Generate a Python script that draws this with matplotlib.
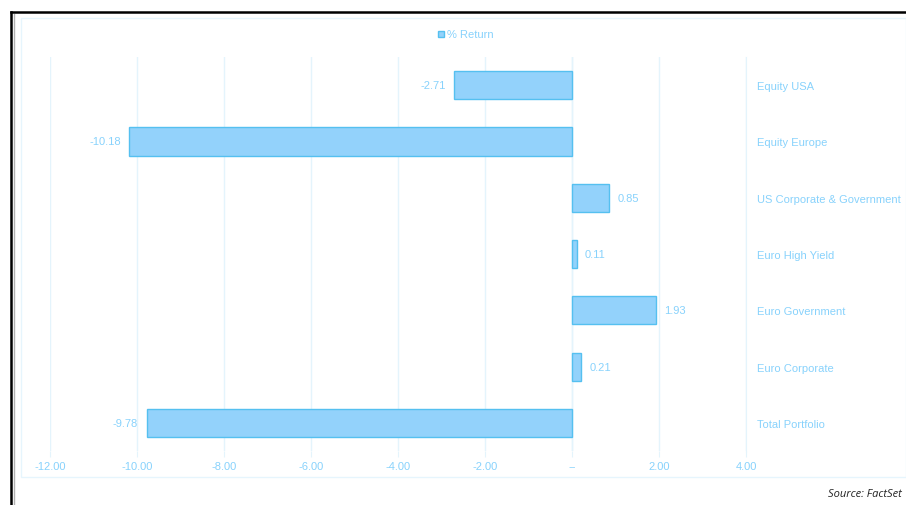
import matplotlib
matplotlib.use("Agg")
import matplotlib.pyplot as plt
from matplotlib.lines import Line2D
from matplotlib.patches import Rectangle
import numpy as np

categories = ["Equity USA", "Equity Europe", "US Corporate & Government",
              "Euro High Yield", "Euro Government", "Euro Corporate", "Total Portfolio"]
returns = [-2.71, -10.18, 0.85, 0.11, 1.93, 0.21, -9.78]
xticks = [-12, -10, -8, -6, -4, -2, 0, 2, 4]
xtick_labels = ["-12.00", "-10.00", "-8.00", "-6.00", "-4.00", "-2.00", "--", "2.00", "4.00"]
series_name = "% Return"
source = "Source: FactSet"

plt.rcParams['font.family'] = ['Liberation Sans', 'DejaVu Sans']
txt = "#88d2fc"
grid = "#e4f4fc"
fill = "#93d2fb"
edge = "#55c0f0"
fs = 8

W, H = 906, 506
fig = plt.figure(figsize=(W/100, H/100), dpi=100)
fig.patch.set_facecolor("white")

# outer frame lines
fig.add_artist(Line2D([11/W, 11/W], [0, 1-13/H], color="black", lw=1.8, transform=fig.transFigure))
fig.add_artist(Line2D([14/W, 14/W], [0, 1-15/H], color="#b0b0b0", lw=1.0, transform=fig.transFigure))
fig.add_artist(Line2D([11/W, 1], [1-13/H, 1-13/H], color="black", lw=1.8, transform=fig.transFigure))
# inner panel
fig.add_artist(Rectangle((21/W, 1-478/H), (W-21)/W, (478-19)/H, fill=False,
                         edgecolor="#e6f5fd", lw=1.0, transform=fig.transFigure))

ax = fig.add_axes([50/W, 1-452/H, (746-50)/W, (452-58)/H])
y = np.arange(len(categories))
ax.barh(y, returns, height=0.5, color=fill, edgecolor=edge, linewidth=1.0, zorder=3)
ax.set_ylim(len(categories)-0.5, -0.5)
ax.set_xlim(-12, 4)
ax.set_xticks(xticks)
ax.set_xticklabels(xtick_labels)
ax.tick_params(axis='x', colors=grid, labelcolor=txt, labelsize=fs, length=4, pad=3)
ax.set_yticks(y)
ax.set_yticklabels(categories)
ax.yaxis.tick_right()
ax.tick_params(axis='y', length=0, labelcolor=txt, labelsize=fs, pad=8)
for lab in ax.get_yticklabels():
    lab.set_horizontalalignment('left')
ax.grid(axis='x', color=grid, lw=1.0, zorder=0)
for s in ["top", "left", "bottom"]:
    ax.spines[s].set_visible(False)
ax.spines["right"].set_color(grid)
ax.axvline(0, color=grid, lw=1.0, zorder=1)

for yi, v in zip(y, returns):
    if v < 0:
        ax.annotate(f"{v:.2f}", (v, yi), xytext=(-6, 0), textcoords="offset points",
                    ha="right", va="center", color=txt, fontsize=fs)
    else:
        ax.annotate(f"{v:.2f}", (v, yi), xytext=(6, 0), textcoords="offset points",
                    ha="left", va="center", color=txt, fontsize=fs)

# legend
fig.add_artist(Rectangle((438/W, 1-38/H), 6/W, 6/H, facecolor=fill, edgecolor=edge,
                         lw=1.0, transform=fig.transFigure))
fig.text(447/W, 1-35/H, series_name, color=txt, fontsize=fs, va="center", ha="left")

fig.text(902/W, 1-495/H, source, color="#222222", fontsize=8, style="italic",
         ha="right", va="center", family=["Open Sans", "DejaVu Sans"])

fig.savefig("out.png", dpi=100)
